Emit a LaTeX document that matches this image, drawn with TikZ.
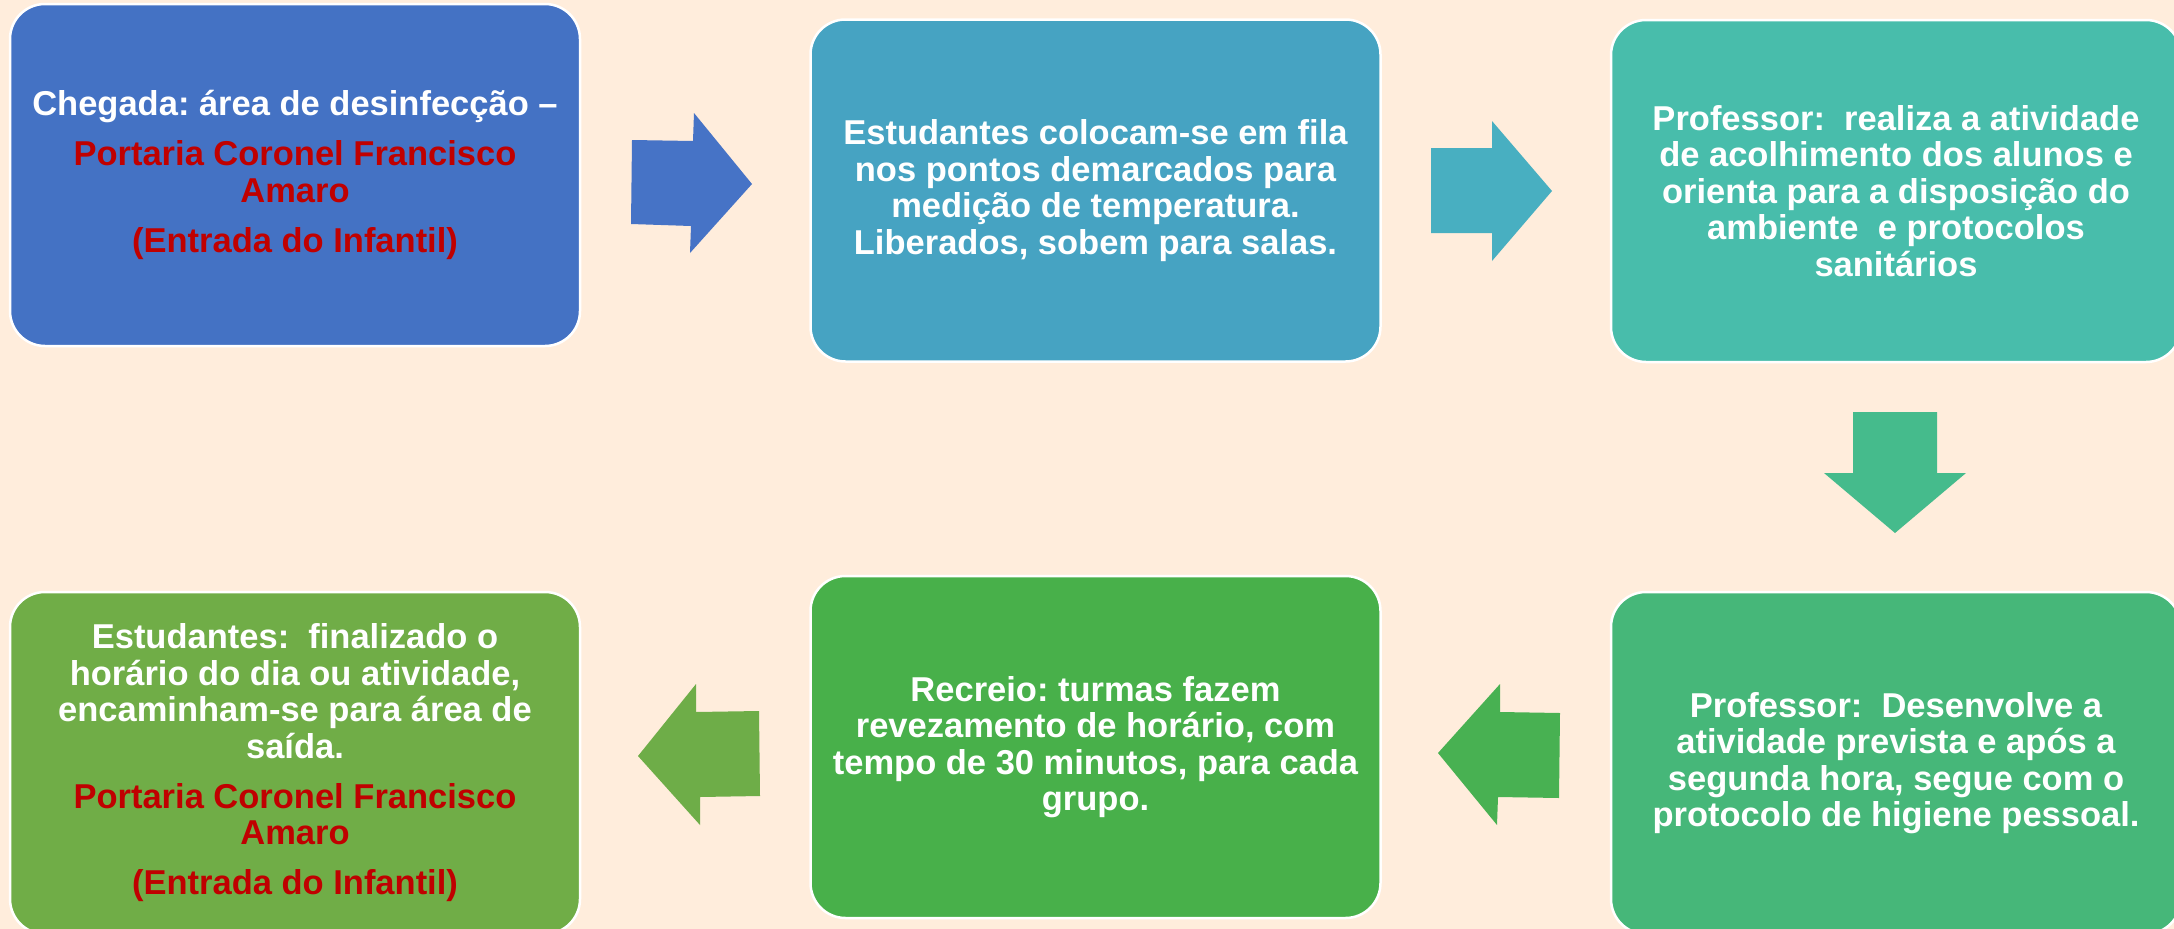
\documentclass[tikz,border=0pt]{standalone}
\usepackage{fontspec}
\setmainfont{Liberation Sans}
\definecolor{bgc}{HTML}{FFEDDC}
\definecolor{redtxt}{HTML}{C00000}
\definecolor{c1}{HTML}{4472C4}
\definecolor{a1}{HTML}{4673C6}
\definecolor{c2}{HTML}{46A3C2}
\definecolor{a2}{HTML}{48AFC1}
\definecolor{c3}{HTML}{48BDAB}
\definecolor{a3}{HTML}{45BB8C}
\definecolor{c6}{HTML}{46B779}
\definecolor{a4}{HTML}{48B152}
\definecolor{c5}{HTML}{48B04A}
\definecolor{a5}{HTML}{6EAD48}
\definecolor{c4}{HTML}{70AD47}
\tikzset{
  box/.style={rounded corners=35pt, draw=white, line width=2.5pt,
    minimum width=570pt, minimum height=342pt, align=center, text=white,
    font=\fontsize{34.5}{36.5}\selectfont\bfseries\frenchspacing, inner sep=0pt},
  blockarrow/.style={draw=none}
}
\begin{document}
\frenchspacing
\begin{tikzpicture}[x=1pt,y=-1pt]
\useasboundingbox (0,0) rectangle (2174,929);
\fill[bgc] (0,0) rectangle (2174,929);
\begin{scope}
\clip (0,0) rectangle (2174,929);
\node[box, fill=c1] (b1) at (295,175) {Chegada: área de desinfecção –\\[13.5pt]
  {\color{redtxt}Portaria Coronel Francisco}\\{\color{redtxt}Amaro}\\[13.5pt]
  {\color{redtxt}(Entrada do Infantil)}};
\node[box, fill=c2] (b2) at (1095.5,190.5) {Estudantes colocam-se em fila\\nos pontos demarcados para\\medição de temperatura.\\Liberados, sobem para salas.};
\node[box, fill=c3] (b3) at (1896,191) {Professor:\ \ realiza a atividade\\de acolhimento dos alunos e\\orienta para a disposição do\\ambiente\ \ e protocolos\\sanitários};
\node[box, fill=c6] (b6) at (1896,763) {Professor:\ \ Desenvolve a\\atividade prevista e após a\\segunda hora, segue com o\\protocolo de higiene pessoal.};
\node[box, fill=c5] (b5) at (1095.5,747) {Recreio: turmas fazem\\revezamento de horário, com\\tempo de 30 minutos, para cada\\grupo.};
\node[box, fill=c4] (b4) at (295,763) {Estudantes:\ \ finalizado o\\horário do dia ou atividade,\\encaminham-se para área de\\saída.\\[13.5pt]
  {\color{redtxt}Portaria Coronel Francisco}\\{\color{redtxt}Amaro}\\[13.5pt]
  {\color{redtxt}(Entrada do Infantil)}};
\end{scope}
% block arrows
\fill[a1, blockarrow] (632,140) -- (693,141) -- (694,113) -- (752,184) -- (690,253) -- (691,226) -- (631,224) -- cycle;
\fill[a2, blockarrow] (1431,148) -- (1492,148) -- (1492,121) -- (1552,191) -- (1492,261) -- (1492,233) -- (1431,233) -- cycle;
\fill[a3, blockarrow] (1853,412) -- (1937,412) -- (1937,473) -- (1966,473) -- (1895,533) -- (1824,473) -- (1853,473) -- cycle;
\fill[a4, blockarrow] (1560,713) -- (1500,712) -- (1500,684) -- (1438,753) -- (1497,825) -- (1498,797) -- (1559,798) -- cycle;
\fill[a5, blockarrow] (759,711) -- (696,712) -- (696,684) -- (638,756) -- (700,825) -- (700,797) -- (760,796) -- cycle;
\end{tikzpicture}
\end{document}
